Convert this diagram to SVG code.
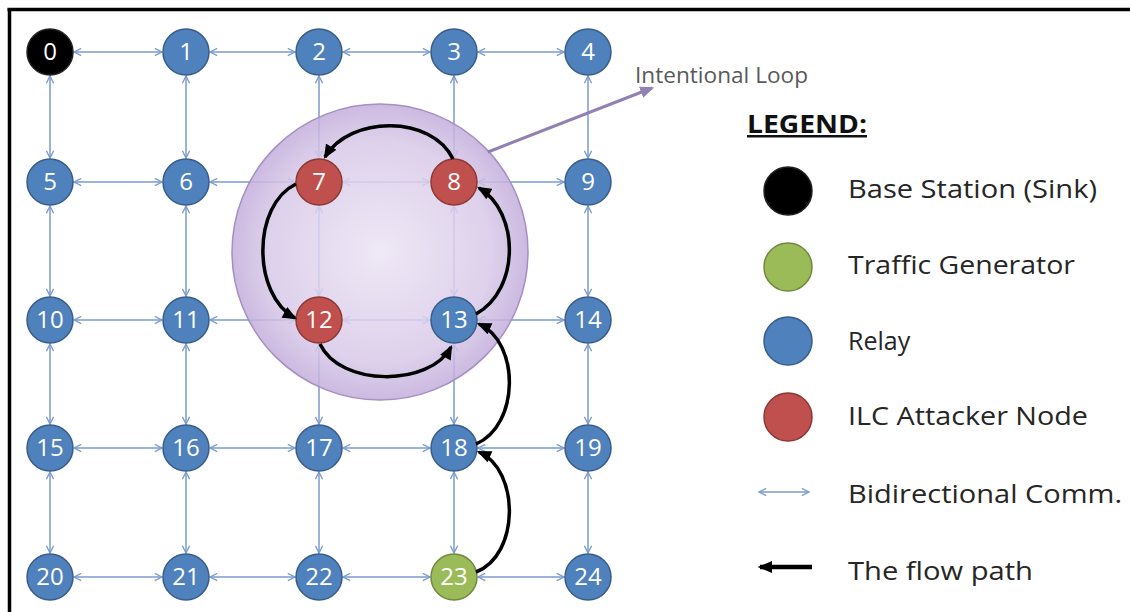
<svg xmlns="http://www.w3.org/2000/svg" width="1130" height="612" viewBox="0 0 1130 612">
<style>
.e{stroke:#7b9bcf;stroke-width:1.5;fill:none;marker-start:url(#ch);marker-end:url(#ch)}
.f{stroke:#000;stroke-width:3.5;fill:none;marker-end:url(#fa)}
.blue{fill:#4f81bd;stroke:#385d8a;stroke-width:1.5}
.red{fill:#c0504d;stroke:#8c3836;stroke-width:1.5}
.green{fill:#9bbb59;stroke:#71893f;stroke-width:1.5}
.black{fill:#000;stroke:#222;stroke-width:1.5}
.n{font-family:"Open Sans","Liberation Sans",sans-serif;font-size:24px;fill:#fff;text-anchor:middle}
.lt{font-family:"Open Sans","Liberation Sans",sans-serif;font-size:25px;fill:#262626}
</style>
<defs>
<marker id="ch" viewBox="0 0 10 10" refX="9" refY="5" markerWidth="9" markerHeight="9" markerUnits="userSpaceOnUse" orient="auto-start-reverse">
<path d="M1,1 L9,5 L1,9" fill="none" stroke="#7b9bcf" stroke-width="1.5"/>
</marker>
<marker id="fa" viewBox="0 0 12 10" refX="10" refY="5" markerWidth="15" markerHeight="12" markerUnits="userSpaceOnUse" orient="auto">
<path d="M0,0 L12,5 L0,10 z" fill="#000"/>
</marker>
<marker id="pa" viewBox="0 0 12 10" refX="10" refY="5" markerWidth="14" markerHeight="12" markerUnits="userSpaceOnUse" orient="auto">
<path d="M0,0 L12,5 L0,10 z" fill="#9080b4"/>
</marker>
<radialGradient id="lg" cx="0.5" cy="0.5" r="0.5">
<stop offset="0" stop-color="#ece4f4"/>
<stop offset="0.75" stop-color="#d8c9e8"/>
<stop offset="1" stop-color="#c3addb"/>
</radialGradient>
</defs>
<rect width="1130" height="612" fill="#fff"/>
<g id="frame">
<line x1="7.5" y1="9.5" x2="1130" y2="9.5" stroke="#000" stroke-width="3.5"/>
<line x1="9.5" y1="8" x2="9.5" y2="612" stroke="#000" stroke-width="3.5"/>
</g>
<g id="connectors">
<g id="grid-edges">
<line class="e" x1="74" y1="52" x2="162" y2="52"/><line class="e" x1="210" y1="52" x2="295" y2="52"/><line class="e" x1="343" y1="52" x2="430" y2="52"/><line class="e" x1="478" y1="52" x2="564" y2="52"/>
<line class="e" x1="74" y1="182" x2="162" y2="182"/><line class="e" x1="210" y1="182" x2="295" y2="182"/><line class="e" x1="343" y1="182" x2="430" y2="182"/><line class="e" x1="478" y1="182" x2="564" y2="182"/>
<line class="e" x1="74" y1="320" x2="162" y2="320"/><line class="e" x1="210" y1="320" x2="295" y2="320"/><line class="e" x1="343" y1="320" x2="430" y2="320"/><line class="e" x1="478" y1="320" x2="564" y2="320"/>
<line class="e" x1="74" y1="448" x2="162" y2="448"/><line class="e" x1="210" y1="448" x2="295" y2="448"/><line class="e" x1="343" y1="448" x2="430" y2="448"/><line class="e" x1="478" y1="448" x2="564" y2="448"/>
<line class="e" x1="74" y1="577" x2="162" y2="577"/><line class="e" x1="210" y1="577" x2="295" y2="577"/><line class="e" x1="343" y1="577" x2="430" y2="577"/><line class="e" x1="478" y1="577" x2="564" y2="577"/>
<line class="e" x1="50" y1="76" x2="50" y2="158"/><line class="e" x1="50" y1="206" x2="50" y2="296"/><line class="e" x1="50" y1="344" x2="50" y2="424"/><line class="e" x1="50" y1="472" x2="50" y2="553"/>
<line class="e" x1="186" y1="76" x2="186" y2="158"/><line class="e" x1="186" y1="206" x2="186" y2="296"/><line class="e" x1="186" y1="344" x2="186" y2="424"/><line class="e" x1="186" y1="472" x2="186" y2="553"/>
<line class="e" x1="319" y1="76" x2="319" y2="158"/><line class="e" x1="319" y1="206" x2="319" y2="296"/><line class="e" x1="319" y1="344" x2="319" y2="424"/><line class="e" x1="319" y1="472" x2="319" y2="553"/>
<line class="e" x1="454" y1="76" x2="454" y2="158"/><line class="e" x1="454" y1="206" x2="454" y2="296"/><line class="e" x1="454" y1="344" x2="454" y2="424"/><line class="e" x1="454" y1="472" x2="454" y2="553"/>
<line class="e" x1="588" y1="76" x2="588" y2="158"/><line class="e" x1="588" y1="206" x2="588" y2="296"/><line class="e" x1="588" y1="344" x2="588" y2="424"/><line class="e" x1="588" y1="472" x2="588" y2="553"/>
</g>
</g>
<g id="loop-region">
<circle cx="380" cy="252" r="148" fill="url(#lg)" fill-opacity="0.85" stroke="#a58fc3" stroke-width="1.5"/>
</g>
<g id="n0"><circle class="black" cx="50" cy="52" r="23"/><text class="n" x="50" y="60">0</text></g>
<g id="n1"><circle class="blue" cx="186" cy="52" r="23"/><text class="n" x="186" y="60">1</text></g>
<g id="n2"><circle class="blue" cx="319" cy="52" r="23"/><text class="n" x="319" y="60">2</text></g>
<g id="n3"><circle class="blue" cx="454" cy="52" r="23"/><text class="n" x="454" y="60">3</text></g>
<g id="n4"><circle class="blue" cx="588" cy="52" r="23"/><text class="n" x="588" y="60">4</text></g>
<g id="n5"><circle class="blue" cx="50" cy="182" r="23"/><text class="n" x="50" y="190">5</text></g>
<g id="n6"><circle class="blue" cx="186" cy="182" r="23"/><text class="n" x="186" y="190">6</text></g>
<g id="n7"><circle class="red" cx="319" cy="182" r="23"/><text class="n" x="319" y="190">7</text></g>
<g id="n8"><circle class="red" cx="454" cy="182" r="23"/><text class="n" x="454" y="190">8</text></g>
<g id="n9"><circle class="blue" cx="588" cy="182" r="23"/><text class="n" x="588" y="190">9</text></g>
<g id="n10"><circle class="blue" cx="50" cy="320" r="23"/><text class="n" x="50" y="328">10</text></g>
<g id="n11"><circle class="blue" cx="186" cy="320" r="23"/><text class="n" x="186" y="328">11</text></g>
<g id="n12"><circle class="red" cx="319" cy="320" r="23"/><text class="n" x="319" y="328">12</text></g>
<g id="n13"><circle class="blue" cx="454" cy="320" r="23"/><text class="n" x="454" y="328">13</text></g>
<g id="n14"><circle class="blue" cx="588" cy="320" r="23"/><text class="n" x="588" y="328">14</text></g>
<g id="n15"><circle class="blue" cx="50" cy="448" r="23"/><text class="n" x="50" y="456">15</text></g>
<g id="n16"><circle class="blue" cx="186" cy="448" r="23"/><text class="n" x="186" y="456">16</text></g>
<g id="n17"><circle class="blue" cx="319" cy="448" r="23"/><text class="n" x="319" y="456">17</text></g>
<g id="n18"><circle class="blue" cx="454" cy="448" r="23"/><text class="n" x="454" y="456">18</text></g>
<g id="n19"><circle class="blue" cx="588" cy="448" r="23"/><text class="n" x="588" y="456">19</text></g>
<g id="n20"><circle class="blue" cx="50" cy="577" r="23"/><text class="n" x="50" y="585">20</text></g>
<g id="n21"><circle class="blue" cx="186" cy="577" r="23"/><text class="n" x="186" y="585">21</text></g>
<g id="n22"><circle class="blue" cx="319" cy="577" r="23"/><text class="n" x="319" y="585">22</text></g>
<g id="n23"><circle class="green" cx="454" cy="577" r="23"/><text class="n" x="454" y="585">23</text></g>
<g id="n24"><circle class="blue" cx="588" cy="577" r="23"/><text class="n" x="588" y="585">24</text></g>
<g id="flow-path">
<path class="f" d="M476,572 C520,555 520,470 479,452"/>
<path class="f" d="M476,444 C520,425 520,342 479,324"/>
<path class="f" d="M476,314 C520,290 520,212 479,188"/>
<path class="f" d="M453,159 C432,115 350,115 325,157"/>
<path class="f" d="M296,184 C252,205 252,295 295,318"/>
<path class="f" d="M320,344 C340,387 430,387 451,347"/>
</g>
<g id="intentional-loop">
<line x1="488" y1="152" x2="652" y2="88" stroke="#9080b4" stroke-width="3" marker-end="url(#pa)"/>
<text x="635" y="83" font-family="'Open Sans','Liberation Sans',sans-serif" font-size="21" fill="#595959" textLength="173" lengthAdjust="spacingAndGlyphs">Intentional Loop</text>
</g>
<g id="legend">
<text x="747" y="133" font-family="'Open Sans','Liberation Sans',sans-serif" font-size="25" font-weight="bold" fill="#111" text-decoration="underline" textLength="120" lengthAdjust="spacingAndGlyphs">LEGEND:</text>
<g id="leg-sink"><circle class="black" cx="788" cy="191" r="24"/><text class="lt" x="848" y="198" textLength="249" lengthAdjust="spacingAndGlyphs">Base Station (Sink)</text></g>
<g id="leg-gen"><circle class="green" cx="788" cy="267" r="24"/><text class="lt" x="848" y="274" textLength="227" lengthAdjust="spacingAndGlyphs">Traffic Generator</text></g>
<g id="leg-relay"><circle class="blue" cx="788" cy="341" r="24"/><text class="lt" x="848" y="350">Relay</text></g>
<g id="leg-ilc"><circle class="red" cx="788" cy="417" r="24"/><text class="lt" x="848" y="425" textLength="240" lengthAdjust="spacingAndGlyphs">ILC Attacker Node</text></g>
<g id="leg-bi"><line class="e" x1="759" y1="492" x2="809" y2="492"/><text class="lt" x="848" y="503" textLength="274" lengthAdjust="spacingAndGlyphs">Bidirectional Comm.</text></g>
<g id="leg-flow"><line x1="812" y1="567" x2="760" y2="567" stroke="#000" stroke-width="4.5" marker-end="url(#fa)"/><text class="lt" x="848" y="580" textLength="185" lengthAdjust="spacingAndGlyphs">The flow path</text></g>
</g>
</svg>
